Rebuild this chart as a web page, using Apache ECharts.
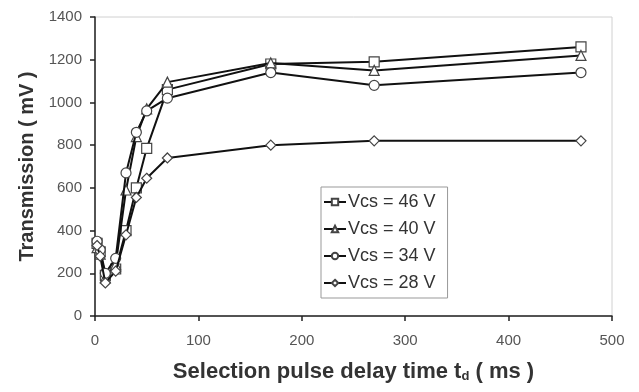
<!DOCTYPE html>
<html>
<head>
<meta charset="utf-8">
<script src="https://cdn.jsdelivr.net/npm/echarts@6/dist/echarts.min.js"></script>
<style>html,body{margin:0;padding:0;background:#fff}#c{width:639px;height:392px}</style>
</head>
<body>
<div id="c"></div>
<script>
var delays = [2, 5, 10, 20, 30, 40, 50, 70, 170, 270, 470];
var v46 = [340, 300, 190, 220, 400, 600, 785, 1060, 1180, 1190, 1260];
var v40 = [320, 290, 180, 240, 590, 840, 970, 1095, 1185, 1150, 1220];
var v34 = [350, 310, 200, 270, 670, 860, 960, 1020, 1140, 1080, 1140];
var v28 = [330, 280, 155, 210, 380, 555, 645, 740, 800, 820, 820];
var seriesNames = ['Vcs = 46 V', 'Vcs = 40 V', 'Vcs = 34 V', 'Vcs = 28 V'];
var xTicks = [0, 100, 200, 300, 400, 500];
var yTicks = [0, 200, 400, 600, 800, 1000, 1200, 1400];

function pairs(vals) { return delays.map(function (d, i) { return [d, vals[i]]; }); }
var symbols = ['rect', 'triangle', 'circle', 'diamond'];
var sizes = [10, 10, 10, 10];
var data = [v46, v40, v34, v28];
var FONT = 'Liberation Sans, Arial, sans-serif';

var chart = echarts.init(document.getElementById('c'), null, {renderer: 'canvas'});
chart.setOption({
  animation: false,
  backgroundColor: '#fff',
  textStyle: {fontFamily: FONT},
  grid: {left: 95, right: 27, top: 17, bottom: 76, show: true, borderColor: '#d0d0d0', borderWidth: 1},
  legend: {
    orient: 'vertical', left: 321, top: 187,
    backgroundColor: '#fff', borderColor: '#999', borderWidth: 1,
    padding: [6, 12, 6, 2], itemGap: 9, itemWidth: 22, itemHeight: 8,
    textStyle: {fontSize: 18, color: '#333', fontFamily: FONT, padding: [0, 0, 0, -3]},
    data: seriesNames
  },
  xAxis: {
    type: 'value', min: xTicks[0], max: xTicks[xTicks.length - 1], interval: 100,
    axisLine: {onZero: false, lineStyle: {color: '#222', width: 1.5}},
    axisTick: {inside: false, length: 5, lineStyle: {color: '#222', width: 1.5}},
    axisLabel: {fontSize: 15, color: '#555', margin: 17},
    splitLine: {show: false},
    name: 'Selection pulse delay time t{s|d} ( ms )',
    nameLocation: 'middle', nameGap: 45,
    nameTextStyle: {fontSize: 22, fontWeight: 'bold', color: '#333',
      rich: {s: {fontSize: 13, fontWeight: 'bold', color: '#333', verticalAlign: 'bottom', padding: [8, 0, 0, 0]}}}
  },
  yAxis: {
    type: 'value', min: yTicks[0], max: yTicks[yTicks.length - 1], interval: 200,
    axisLine: {show: true, lineStyle: {color: '#222', width: 1.5}},
    axisTick: {show: true, inside: false, length: 5, lineStyle: {color: '#222', width: 1.5}},
    axisLabel: {fontSize: 15, color: '#555', margin: 13, formatter: function (v) { return String(v); }},
    splitLine: {show: false},
    name: 'Transmission ( mV )',
    nameLocation: 'middle', nameGap: 57, nameRotate: 90,
    nameTextStyle: {fontSize: 20, fontWeight: 'bold', color: '#333'}
  },
  series: seriesNames.map(function (n, i) {
    return {
      name: n, type: 'line', data: pairs(data[i]),
      symbol: symbols[i], symbolSize: sizes[i], showAllSymbol: true,
      lineStyle: {color: '#111', width: 2},
      itemStyle: {color: '#fff', borderColor: '#444', borderWidth: 1.2},
      z: 2 + i
    };
  })
});
</script>
</body>
</html>
